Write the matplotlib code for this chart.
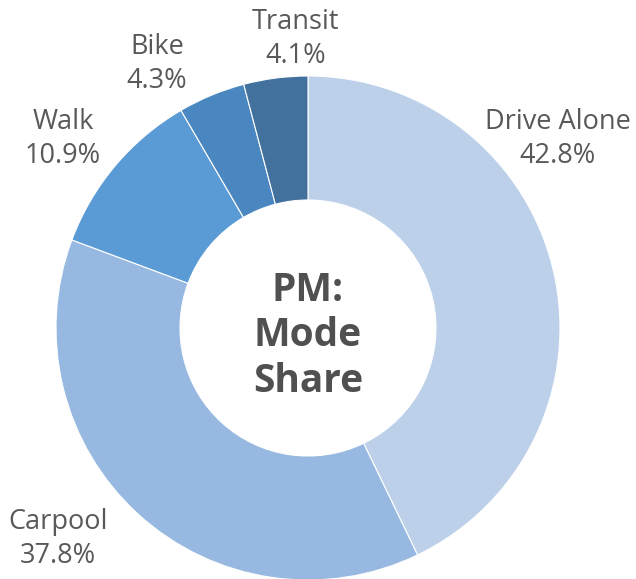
import matplotlib
matplotlib.use("Agg")
import matplotlib.pyplot as plt

categories = ["Drive Alone", "Carpool", "Walk", "Bike", "Transit"]
shares = [42.8, 37.8, 10.9, 4.3, 4.1]
colors = ["#BDD0EA", "#97B8E0", "#5B9BD5", "#4A86BF", "#41719C"]
center_title = "PM:\nMode\nShare"

# label anchor positions (pixels from top-left), layout only
label_pos = [(558, 139), (58, 539), (63, 139), (157, 64), (296, 39)]

W, H = 636, 579
fig = plt.figure(figsize=(W / 100, H / 100), dpi=100)
ax = fig.add_axes([0, 0, 1, 1])

cx, cy, R = 308, H - 328, 252
ax.pie(shares, colors=colors, startangle=90, counterclock=False,
       center=(cx, cy), radius=R, frame=True,
       wedgeprops=dict(width=R - 128, edgecolor="white", linewidth=0.8))
ax.set_xlim(0, W)
ax.set_ylim(0, H)
ax.set_aspect("equal")
ax.axis("off")

for cat, v, (x, y) in zip(categories, shares, label_pos):
    ax.text(x, H - y, f"{cat}\n{v:.1f}%", ha="center", va="center",
            fontsize=19.5, color="#595959", family="Open Sans",
            linespacing=1.28)

ax.text(cx, H - 336, center_title, ha="center", va="center", fontsize=28,
        fontweight="bold", color="#505050", family="Open Sans",
        linespacing=1.22)

fig.savefig("out.png", dpi=100)
